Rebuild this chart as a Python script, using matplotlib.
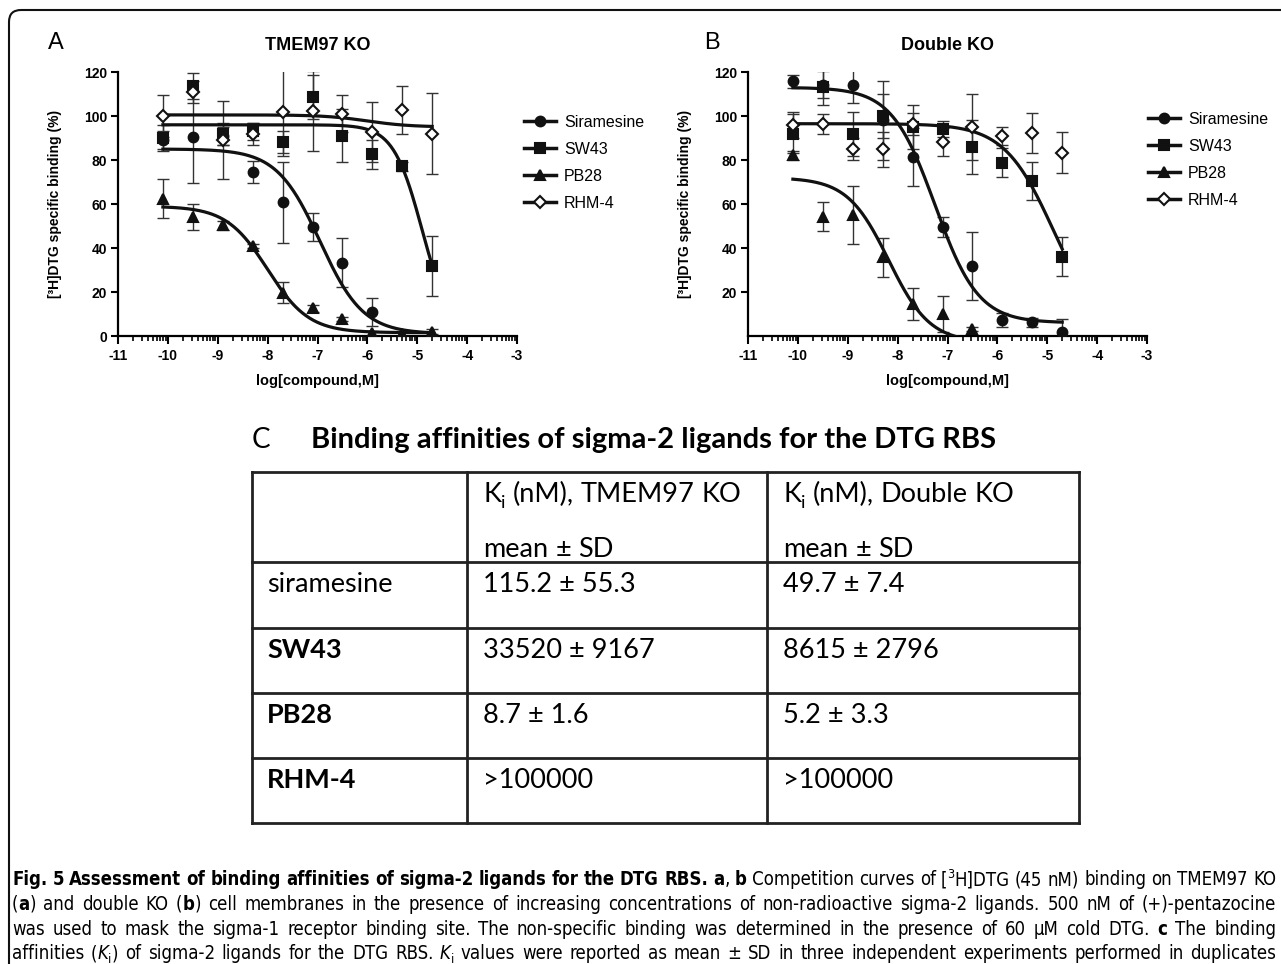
import numpy as np
import matplotlib
matplotlib.use('Agg')
import matplotlib.pyplot as plt
from matplotlib.lines import Line2D
from matplotlib.patches import FancyBboxPatch
from matplotlib import font_manager

nan = np.nan
W, H = 1281, 964

# ---- data ----
log_conc = [-10.1, -9.5, -8.9, -8.3, -7.7, -7.1, -6.5, -5.9, -5.3, -4.7]
compounds = ['Siramesine', 'SW43', 'PB28', 'RHM-4']

# panel A: TMEM97 KO, % specific binding (mean, SD)
tmem_siramesine = [89.0, 90.5, 91.0, 74.6, 60.7, 49.6, 33.4, 11.0, nan, nan]
tmem_siramesine_sd = [4, 21, 4, 5, 18.5, 6.2, 11, 6.4, nan, nan]
tmem_sw43 = [90.0, 113.6, 91.7, 93.0, 88.4, 108.7, 91.1, 82.5, 77.2, 31.8]
tmem_sw43_sd = [6, 6, 5, 4, 5, 10, 12, 6.5, 2, 13.5]
tmem_pb28 = [62.5, 54.2, 50.4, 40.9, 19.7, 12.6, 7.6, 1.2, 0.9, 2.0]
tmem_pb28_sd = [9, 6, 2, 1, 4.8, 1.5, 1, 1, 1, 1]
tmem_rhm4 = [100.0, 111.0, 89.0, 92.0, 101.8, 102.3, 101.0, 92.8, 102.6, 92.0]
tmem_rhm4_sd = [9.7, 5, 17.6, 5, 20, 18, 8.5, 13.5, 11, 18.4]

# panel B: double KO
dko_siramesine = [115.8, 114.3, 114.0, 98.0, 81.4, 49.6, 31.9, 7.3, 6.2, 2.0]
dko_siramesine_sd = [3, 6, 8, 18, 13, 4.5, 15.5, 3, 2, 5.6]
dko_sw43 = [92.0, 113.2, 91.7, 99.9, 95.0, 94.0, 86.0, 78.8, 70.5, 36.0]
dko_sw43_sd = [9, 8, 10, 10, 10, 3.5, 12.4, 6.6, 8.8, 8.8]
dko_pb28 = [82.2, 54.2, 55.0, 35.7, 14.5, 10.0, 3.2, nan, nan, nan]
dko_pb28_sd = [2, 6.5, 13.3, 9, 7.3, 8.3, 1, nan, nan, nan]
dko_rhm4 = [96.0, 96.5, 85.2, 84.9, 96.5, 88.2, 95.0, 90.8, 92.3, 83.2]
dko_rhm4_sd = [6, 4.5, 5, 8, 5, 6.3, 15, 4, 9, 9.3]

# fitted curves: top, bottom, logIC50, hill (None = no curve drawn)
tmem_fits = [(85, 1, -6.95, 1.0), (96, 0, -4.9, 1.5), (59, 1.5, -8.0, 1.05), (100.5, 95, -6.0, 1.0)]
dko_fits = [(113, 6, -7.25, 1.0), (96.5, 0, -4.88, 0.88), (72, -3, -8.18, 1.05), None]

# table C
table_rows = ['siramesine', 'SW43', 'PB28', 'RHM-4']
table_row_bold = [False, True, True, True]
ki_tmem97 = ['115.2 ± 55.3', '33520 ± 9167', '8.7 ± 1.6', '>100000']
ki_double = ['49.7 ± 7.4', '8615 ± 2796', '5.2 ± 3.3', '>100000']

# caption font: a condensed face if one is installed
cond = font_manager.FontProperties(family='DejaVu Sans', stretch='condensed')
if 'Condensed' in font_manager.findfont(cond, fallback_to_default=False):
    cap_font = dict(family='DejaVu Sans', fontstretch='condensed')
else:
    cap_font = dict(family=['Roboto', 'DejaVu Sans'])
tab_family = ['Lato', 'DejaVu Sans']

plt.rcParams['font.family'] = ['Liberation Sans', 'DejaVu Sans']
plt.rcParams['axes.unicode_minus'] = False

fig = plt.figure(figsize=(W / 100, H / 100), dpi=100)

# overlay axes in pixel units for border, labels, table, caption
ov = fig.add_axes([0, 0, 1, 1])
ov.set_xlim(0, W)
ov.set_ylim(H, 0)
ov.axis('off')

ov.add_patch(FancyBboxPatch((9, 10), 1320, 1100, boxstyle='round,pad=0,rounding_size=12',
                            fc='none', ec='#111111', lw=1.5))


def logistic(x, top, bottom, logic50, hill):
    return bottom + (top - bottom) / (1 + 10 ** ((x - logic50) * hill))


markers = ['o', 's', '^', 'D']
msizes = [7, 7, 7.5, 6]
mfaces = ['#111111', '#111111', '#111111', 'white']


def draw_panel(left, title, ys, sds, fits, yticks, leg_xy):
    ax = fig.add_axes([left / W, 1 - 336 / H, 399 / W, 264 / H])
    x = np.array(log_conc)
    for i in range(4):
        ax.errorbar(x, ys[i], yerr=sds[i], fmt='none', ecolor='#333333',
                    elinewidth=1, capsize=4, capthick=1, zorder=2)
    for i in range(4):
        if fits[i] is None:
            continue
        xx = np.linspace(log_conc[0], log_conc[-1], 300)
        ax.plot(xx, logistic(xx, *fits[i]), color='#111111', lw=2.3, zorder=3)
    for i in range(4):
        ax.plot(x, ys[i], ls='none', marker=markers[i], ms=msizes[i],
                mfc=mfaces[i], mec='#111111', mew=1.5, zorder=4)
    ax.set_xlim(-11, -3)
    ax.set_ylim(0, 120)
    ax.set_xticks(range(-11, -2))
    minor = [n + np.log10(k) for n in range(-11, -3) for k in range(2, 10)]
    ax.set_xticks(minor, minor=True)
    ax.set_yticks(yticks)
    for s in ['top', 'right']:
        ax.spines[s].set_visible(False)
    for s in ['left', 'bottom']:
        ax.spines[s].set_linewidth(1.6)
    ax.tick_params(axis='y', which='major', length=5, width=1.5, labelsize=10, pad=3)
    ax.tick_params(axis='x', which='major', length=6, width=1.5, labelsize=10, pad=3)
    ax.tick_params(axis='x', which='minor', length=3.5, width=1.2)
    for lab in ax.get_xticklabels() + ax.get_yticklabels():
        lab.set_fontweight('bold')
    ax.set_ylabel('[³H]DTG specific binding (%)', fontsize=10, fontweight='bold', va='center')
    ax.yaxis.set_label_coords(-0.158, 0.5)
    ax.set_xlabel('log[compound,M]', fontsize=10.5, fontweight='bold', va='center')
    ax.xaxis.set_label_coords(0.5, -0.17)
    ax.text(0.5, 1.102, title, transform=ax.transAxes, ha='center', va='center',
            fontsize=13, fontweight='bold')
    handles = [Line2D([], [], color='#111111', lw=2.5, marker=markers[i], ms=msizes[i],
                      mfc=mfaces[i], mec='#111111', mew=1.5) for i in range(4)]
    fig.legend(handles, compounds, loc='upper left',
               bbox_to_anchor=(leg_xy[0] / W, 1 - leg_xy[1] / H),
               frameon=False, fontsize=11.5, handlelength=2.0, handletextpad=0.5,
               labelspacing=0.75, borderpad=0, borderaxespad=0)
    return ax


draw_panel(118, 'TMEM97 KO',
           [tmem_siramesine, tmem_sw43, tmem_pb28, tmem_rhm4],
           [tmem_siramesine_sd, tmem_sw43_sd, tmem_pb28_sd, tmem_rhm4_sd],
           tmem_fits, [0, 20, 40, 60, 80, 100, 120], (524, 115))
draw_panel(748, 'Double KO',
           [dko_siramesine, dko_sw43, dko_pb28, dko_rhm4],
           [dko_siramesine_sd, dko_sw43_sd, dko_pb28_sd, dko_rhm4_sd],
           dko_fits, [20, 40, 60, 80, 100, 120], (1148, 112))

ov.text(56, 43, 'A', fontsize=17, ha='center', va='center')
ov.text(712, 43, 'B', fontsize=17, ha='center', va='center')

renderer = fig.canvas.get_renderer()


def make_words(y, runs, size, font):
    # runs: (text, weight, style, shift) with shift 1 = subscript, -1 = superscript
    words = [[]]
    for text, weight, style, shift in runs:
        parts = text.split(' ')
        for i, p in enumerate(parts):
            if i > 0:
                words.append([])
            if p:
                words[-1].append((p, weight, style, shift))
    words = [w for w in words if w]
    px = size * 100 / 72
    items = []
    for w in words:
        pieces = []
        for p, weight, style, shift in w:
            fs = size * (0.68 if shift else 1)
            dy = {0: 0, 1: 0.22 * px, -1: -0.38 * px}[shift]
            t = ov.text(0, y + dy, p, fontsize=fs, fontweight=weight, fontstyle=style,
                        ha='left', va='baseline', **font)
            pieces.append(t)
        items.append(pieces)
    return items


def place_words(items, x0, size, width=None):
    widths = [[t.get_window_extent(renderer).width for t in pieces] for pieces in items]
    total = sum(sum(ws) for ws in widths)
    gap = 0.26 * size * 100 / 72
    if width is not None and len(items) > 1:
        gap = (width - total) / (len(items) - 1)
    x = x0
    for pieces, ws in zip(items, widths):
        for t, wd in zip(pieces, ws):
            t.set_x(x)
            x += wd
        x += gap


def natural_width(runs, size, font):
    items = make_words(0, runs, size, font)
    widths = [sum(t.get_window_extent(renderer).width for t in pieces) for pieces in items]
    for pieces in items:
        for t in pieces:
            t.remove()
    return sum(widths) + 0.26 * size * 100 / 72 * (len(items) - 1)


# ---- table C ----
ov.text(252, 440, 'C', fontsize=20, family=tab_family, ha='left', va='center')
ov.text(311, 440, 'Binding affinities of sigma-2 ligands for the DTG RBS', fontsize=21,
        fontweight='bold', family=tab_family, ha='left', va='center')

col_x = [252, 467, 767, 1079]
row_y = [472, 562, 628, 693, 758, 823]
for cx in col_x:
    ov.plot([cx, cx], [row_y[0], row_y[-1]], color='#222222', lw=2, solid_capstyle='projecting')
for ry in row_y:
    ov.plot([col_x[0], col_x[-1]], [ry, ry], color='#222222', lw=2, solid_capstyle='projecting')

tsize = 19.5
tfont = dict(family=tab_family)
for cx, name in zip(col_x[1:3], ['TMEM97 KO', 'Double KO']):
    place_words(make_words(502, [('K', 'normal', 'normal', 0), ('i', 'normal', 'normal', 1),
                                 (' (nM),  ' + name, 'normal', 'normal', 0)], tsize, tfont),
                cx + 16, tsize)
    place_words(make_words(557, [('mean ± SD', 'normal', 'normal', 0)], tsize, tfont),
                cx + 16, tsize)

for i in range(4):
    base = row_y[i + 1] + 30
    ov.text(col_x[0] + 15, base, table_rows[i], fontsize=tsize, family=tab_family,
            fontweight='bold' if table_row_bold[i] else 'normal', va='baseline')
    ov.text(col_x[1] + 16, base, ki_tmem97[i], fontsize=tsize, family=tab_family, va='baseline')
    ov.text(col_x[2] + 16, base, ki_double[i], fontsize=tsize, family=tab_family, va='baseline')

# ---- caption ----
N, B, I = 'normal', 'bold', 'italic'
caption = [
    [('Fig. 5 Assessment of binding affinities of sigma-2 ligands for the DTG RBS.', B, N, 0),
     (' ', N, N, 0), ('a', B, N, 0), (', ', N, N, 0), ('b', B, N, 0),
     (' Competition curves of [', N, N, 0), ('3', N, N, -1),
     ('H]DTG (45 nM) binding on TMEM97 KO', N, N, 0)],
    [('(', N, N, 0), ('a', B, N, 0), (') and double KO (', N, N, 0), ('b', B, N, 0),
     (') cell membranes in the presence of increasing concentrations of non-radioactive '
      'sigma-2 ligands. 500 nM of (+)-pentazocine', N, N, 0)],
    [('was used to mask the sigma-1 receptor binding site. The non-specific binding was '
      'determined in the presence of 60 μM cold DTG. ', N, N, 0), ('c', B, N, 0),
     (' The binding', N, N, 0)],
    [('affinities (', N, N, 0), ('K', N, I, 0), ('i', N, N, 1),
     (') of sigma-2 ligands for the DTG RBS. ', N, N, 0), ('K', N, I, 0), ('i', N, N, 1),
     (' values were reported as mean ± SD in three independent experiments performed in '
      'duplicates', N, N, 0)],
]
cap_width = 1264
base_size = 12
widest = max(natural_width(runs, base_size, cap_font) for runs in caption)
cap_size = min(14, base_size * cap_width / widest * 0.995)
cap_y = [885, 910, 935, 959]
for runs, yb in zip(caption, cap_y):
    place_words(make_words(yb, runs, cap_size, cap_font), 12, cap_size, width=cap_width)

fig.savefig('out.png', dpi=100)
